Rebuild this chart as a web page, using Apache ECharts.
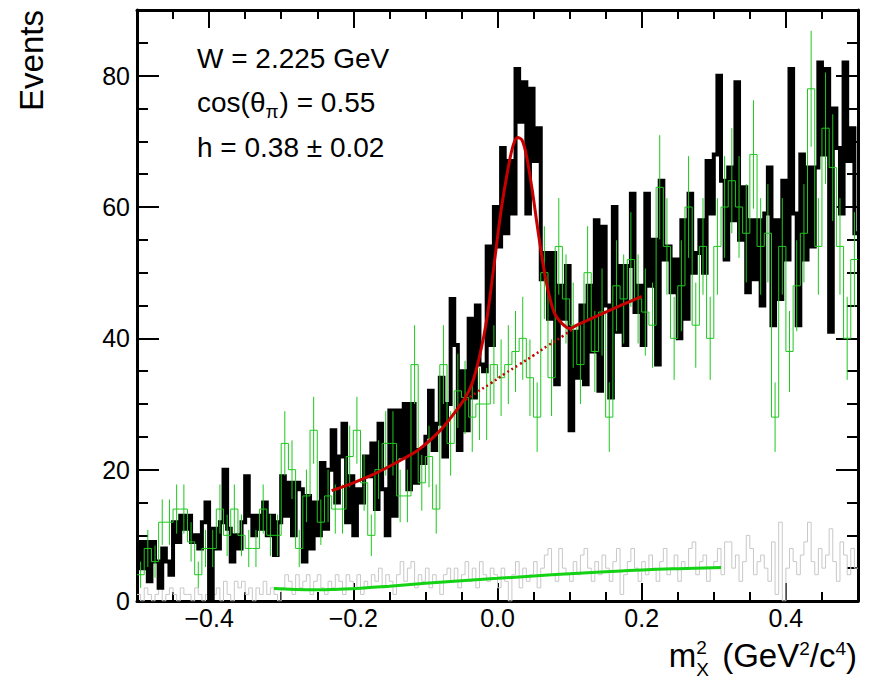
<!DOCTYPE html>
<html><head><meta charset="utf-8">
<script src="https://cdn.jsdelivr.net/npm/echarts@6/dist/echarts.min.js"></script>
<style>html,body{margin:0;padding:0;background:#fff}#c{width:874px;height:681px}</style>
</head><body><div id="c"></div>
<script>
// ---------------- data ----------------
const X_MIN = -0.5, X_MAX = 0.5;
const Y_MIN = 0, Y_MAX = 90;

// black histogram, 200 bins of 0.005
const blackCounts = [
  9, 5, 9, 3, 9, 6, 2, 8, 6, 4,
  12, 9, 13, 11, 13, 9, 10, 8, 12, 15,
  0, 11, 8, 12, 20, 11, 6, 10, 8, 12,
  19, 13, 10, 13, 11, 15, 10, 13, 7, 12,
  19, 13, 18, 10, 18, 17, 6, 16, 8, 15,
  10, 21, 11, 20, 26, 15, 22, 27, 12, 19,
  10, 17, 15, 22, 19, 24, 14, 27, 17, 10,
  29, 13, 29, 22, 30, 17, 30, 18, 23, 21,
  25, 32, 23, 27, 34, 22, 30, 46, 39, 23,
  35, 26, 43, 31, 45, 36, 35, 54, 39, 60,
  54, 69, 56, 67, 59, 81, 73, 79, 59, 78,
  67, 72, 49, 53, 43, 53, 33, 48, 43, 51,
  26, 41, 34, 45, 33, 48, 38, 58, 32, 57,
  45, 31, 60, 41, 51, 39, 51, 62, 44, 48,
  39, 62, 48, 55, 36, 64, 52, 54, 47, 52,
  40, 58, 43, 62, 50, 53, 58, 50, 67, 59,
  68, 80, 64, 52, 66, 58, 79, 55, 63, 47,
  58, 49, 58, 45, 59, 66, 42, 58, 46, 64,
  52, 81, 59, 42, 68, 52, 66, 54, 66, 82,
  68, 81, 41, 75, 69, 59, 82, 67, 72, 56
];

// green histogram, 100 bins of 0.01
const greenCounts = [
  4, 8, 6, 12, 12, 14, 14, 9, 4, 8,
  8, 14, 10, 14, 10, 8, 8, 14, 10, 10,
  24, 20, 8, 16, 26, 12, 16, 14, 14, 22,
  26, 18, 10, 20, 24, 24, 16, 16, 36, 18,
  22, 14, 36, 24, 32, 31, 28, 30, 30, 36,
  34, 36, 38, 40, 34, 28, 50, 34, 54, 46,
  42, 36, 50, 38, 44, 28, 48, 46, 52, 46,
  44, 42, 63, 54, 40, 48, 60, 42, 54, 40,
  54, 60, 64, 60, 56, 68, 54, 56, 28, 54,
  38, 48, 56, 78, 54, 72, 66, 54, 40, 52
];

// grey histogram, 200 bins of 0.005
const grayCounts = [
  1, 0, 2, 1, 0, 1, 2, 0, 1, 2, 1, 0, 2, 1, 1, 0, 2, 1, 0, 1,
  3, 1, 2, 0, 3, 1, 0, 3, 2, 3, 1, 2, 0, 2, 1, 3, 1, 2, 1, 0,
  2, 4, 3, 1, 4, 2, 3, 4, 1, 3, 4, 2, 1, 3, 2, 4, 3, 1, 4, 3,
  2, 4, 1, 3, 2, 4, 3, 5, 2, 4, 3, 1, 4, 6, 3, 5, 6, 2, 4, 3,
  5, 2, 4, 3, 1, 4, 5, 3, 5, 2, 4, 6, 3, 5, 2, 6, 4, 3, 5, 4,
  2, 5, 3, 0, 4, 6, 2, 5, 3, 4, 6, 2, 5, 7, 8, 4, 3, 8, 5, 4,
  3, 6, 4, 7, 8, 5, 3, 6, 4, 7, 5, 3, 6, 8, 1, 4, 6, 8, 5, 3,
  6, 4, 7, 5, 3, 6, 8, 4, 5, 7, 3, 6, 5, 8, 9, 4, 6, 7, 3, 5,
  6, 8, 4, 9, 9, 5, 7, 3, 6, 10, 8, 4, 6, 7, 5, 3, 9, 1, 12, 0,
  5, 8, 6, 4, 7, 9, 12, 6, 4, 8, 5, 7, 11, 6, 3, 9, 7, 4, 8, 5
];

// red fit (signal + background), solid
const redFitX = [-0.23,-0.2,-0.17,-0.14,-0.11,-0.08,-0.06,-0.045,-0.035,-0.025,-0.015,-0.005,0.005,0.015,0.022,0.028,0.034,0.04,0.048,0.056,0.064,0.072,0.08,0.09,0.1,0.11,0.13,0.15,0.175,0.2];
const redFitY = [16.8,18.0,19.4,21.1,23.0,25.9,28.6,30.9,33.2,37.2,42.8,51.0,59.5,66.1,69.5,70.6,70.2,67.9,62.7,56.5,50.8,46.4,43.6,42.2,41.5,42.0,43.0,44.0,45.2,46.4];
// red background under the peak, dotted
const redBgX = [-0.05,-0.03,-0.01,0.01,0.03,0.05,0.07,0.09,0.105];
const redBgY = [30.2,31.7,33.1,34.6,36.0,37.4,38.9,40.3,41.5];
// green fit curve near the bottom
const greenFitX = [-0.31,-0.28,-0.25,-0.22,-0.19,-0.15,-0.1,-0.05,0,0.05,0.1,0.15,0.2,0.25,0.31];
const greenFitY = [1.9,1.75,1.7,1.8,1.95,2.25,2.7,3.1,3.45,3.8,4.15,4.45,4.72,4.92,5.1];

const xLabelValues = [-0.4, -0.2, 0, 0.2, 0.4];
const yLabelValues = [0, 20, 40, 60, 80];
const yMajorStep = 20;
const xMinorStep = 0.05;

// ---------------- helpers ----------------
function stepData(counts) {
  const w = (X_MAX - X_MIN) / counts.length;
  const d = counts.map((v, i) => [X_MIN + i * w, v]);
  d.push([X_MAX, counts[counts.length - 1]]);
  return d;
}
function errData(counts) {
  const w = (X_MAX - X_MIN) / counts.length;
  return counts.map((v, i) => [X_MIN + (i + 0.5) * w, v, Math.sqrt(v)]);
}
const zip = (a, b) => a.map((v, i) => [v, b[i]]);

const FONT = '"Liberation Sans", Arial, Helvetica, sans-serif';
const mctx = document.createElement('canvas').getContext('2d');
function tw(t, size) { mctx.font = size + 'px "Liberation Sans"'; return mctx.measureText(t).width; }
const midY = (base, size) => base - 0.347 * size;

const GREEN = '#1ec81e';
const GREENFIT = '#14d214';
const RED = '#c80000';
const GRAY = '#c8c8c8';
const tickLine = { color: '#000', width: 2 };
const frameLine = { color: '#000', width: 3 };

function xAxisDef(pos, major, labels) {
  const ax = {
    type: 'value', gridIndex: 0, min: X_MIN, max: X_MAX, position: pos,
    splitLine: { show: false },
    axisLine: { show: major, onZero: false, lineStyle: frameLine },
    axisLabel: { show: false }
  };
  if (major) {
    ax.interval = 0.1;
    ax.axisTick = { show: true, inside: true, length: 18, customValues: xLabelValues, lineStyle: tickLine };
  } else {
    ax.interval = xMinorStep;
    ax.axisTick = { show: true, inside: true, length: 9, lineStyle: tickLine };
  }
  if (labels) {
    ax.axisLabel = {
      show: true, customValues: xLabelValues, margin: 4,
      fontSize: 25, fontFamily: FONT, color: '#000',
      formatter: v => (v < -1e-9 ? '\u2212' : '') + Math.abs(v).toFixed(1)
    };
  }
  return ax;
}
function yAxisDef(pos, labels) {
  return {
    type: 'value', gridIndex: 0, min: Y_MIN, max: Y_MAX, interval: yMajorStep, position: pos,
    splitLine: { show: false },
    axisLine: { show: true, onZero: false, lineStyle: frameLine },
    axisTick: { show: true, inside: true, length: 22, lineStyle: tickLine },
    minorTick: { show: true, splitNumber: 4, length: 11, lineStyle: tickLine },
    axisLabel: labels ? { show: true, customValues: yLabelValues, margin: 7, fontSize: 25, fontFamily: FONT, color: '#000' } : { show: false }
  };
}

// ---------------- text graphics ----------------
const graphics = [];
function addText(txt, x, base, size, align) {
  graphics.push({ type: 'text', x: x, y: midY(base, size), z: 100,
    style: { text: txt, fontSize: size, fontFamily: FONT, fill: '#000', align: align || 'left', verticalAlign: 'middle' } });
}
const AF = 28, AS = 19;
addText('W = 2.225 GeV', 197, 68, AF);
(function () {
  let x = 197;
  addText('cos(\u03b8', x, 112, AF); x += tw('cos(\u03b8', AF);
  addText('\u03c0', x, 118, AS); x += tw('\u03c0', AS) + 1;
  addText(') = 0.55', x, 112, AF);
})();
addText('h = 0.38 \u00b1 0.02', 197, 157, AF);

// y axis title
graphics.push({ type: 'text', x: 31, y: 10, rotation: Math.PI / 2, z: 100,
  style: { text: 'Events', fontSize: 33, fontFamily: FONT, fill: '#000', align: 'right', verticalAlign: 'middle' } });

// x axis title  m^2_X (GeV^2/c^4), right edge at 857
(function () {
  const F = 33, S = 19, base = 667, supB = 654, subB = 676;
  const parts = [
    { t: 'm', s: F, b: base },
    { stack: [{ t: '2', s: S, b: supB }, { t: 'X', s: S, b: subB }] },
    { t: ' (GeV', s: F, b: base, pre: 3 },
    { t: '2', s: S, b: supB + 1 },
    { t: '/c', s: F, b: base },
    { t: '4', s: S, b: supB + 1 },
    { t: ')', s: F, b: base }
  ];
  let total = 0;
  parts.forEach(p => {
    p.w = p.stack ? Math.max(...p.stack.map(q => tw(q.t, q.s))) + 1 : tw(p.t, p.s) + (p.pre || 0);
    total += p.w;
  });
  let x = 857 - total;
  parts.forEach(p => {
    if (p.stack) p.stack.forEach(q => addText(q.t, x, q.b, q.s));
    else addText(p.t, x + (p.pre || 0), p.b, p.s);
    x += p.w;
  });
})();

// ---------------- chart ----------------
const chart = echarts.init(document.getElementById('c'), null, { renderer: 'svg', width: 874, height: 681 });
chart.setOption({
  animation: false,
  backgroundColor: '#fff',
  grid: { left: 137, right: 16, top: 10, bottom: 80, containLabel: false },
  xAxis: [
    xAxisDef('bottom', true, true),
    xAxisDef('bottom', false, false),
    xAxisDef('top', true, false),
    xAxisDef('top', false, false)
  ],
  yAxis: [yAxisDef('left', true), yAxisDef('right', false)],
  graphic: graphics,
  series: [
    { name: 'grey', type: 'line', step: 'end', data: stepData(grayCounts), symbol: 'none',
      lineStyle: { color: GRAY, width: 1 }, z: 1 },
    { name: 'bgfit', type: 'line', smooth: true, data: zip(greenFitX, greenFitY), symbol: 'none',
      lineStyle: { color: GREENFIT, width: 3 }, z: 2 },
    { name: 'data', type: 'line', step: 'end', data: stepData(blackCounts), symbol: 'none',
      lineStyle: { color: '#000', width: 4, join: 'miter' }, z: 3 },
    { name: 'green', type: 'line', step: 'end', data: stepData(greenCounts), symbol: 'none',
      lineStyle: { color: GREEN, width: 1 }, z: 4 },
    { name: 'greenErr', type: 'custom', data: errData(greenCounts), z: 4, clip: true,
      renderItem: (params, api) => {
        const x = api.value(0), y = api.value(1), e = api.value(2);
        const p1 = api.coord([x, y - e]), p2 = api.coord([x, y + e]);
        return { type: 'line', shape: { x1: p1[0], y1: p1[1], x2: p2[0], y2: p2[1] },
          style: { stroke: GREEN, lineWidth: 1 } };
      } },
    { name: 'bgDotted', type: 'line', smooth: true, data: zip(redBgX, redBgY), symbol: 'none',
      lineStyle: { color: RED, width: 2.5, type: [2, 3] }, z: 5 },
    { name: 'fit', type: 'line', smooth: 0.3, data: zip(redFitX, redFitY), symbol: 'none',
      lineStyle: { color: RED, width: 3 }, z: 6 }
  ]
});
</script></body></html>
